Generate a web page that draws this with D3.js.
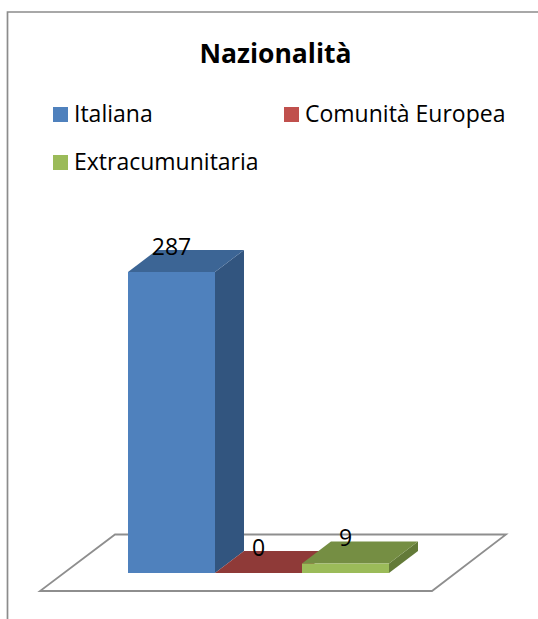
<!DOCTYPE html>
<html><head><meta charset="utf-8">
<script src="https://cdn.jsdelivr.net/npm/d3@7"></script>
<style>html,body{margin:0;padding:0;background:#fff}svg{display:block}text{font-family:"Open Sans",Lato,sans-serif;fill:#000}</style>
</head><body><svg id="c" width="538" height="619"></svg>
<script>
const chartTitle = "Nazionalità";
const categories = ["Italiana","Comunità Europea","Extracumunitaria"];
const values = [287,0,9];
const frontColors = ["#4f81bd","#c0504d","#9bbb59"];
const topColors = ["#3c6595","#8f3a38","#758e43"];
const sideColors = ["#32557f","#7a3230","#637a38"];

const svg = d3.select("#c");
const depthX = 29, depthY = 22;
const x = d3.scaleBand().domain(categories).range([128,389]).padding(0);
const y = d3.scaleLinear().domain([0,287]).range([573,272]);

svg.append("path").attr("d","M7.5,619V12H538").attr("fill","none").attr("stroke","#8c8c8c").attr("stroke-width",1.7);
svg.append("polygon").attr("points","40,591 432,591 506,534.5 115,534.5")
  .attr("fill","#fff").attr("stroke","#8e8e8e").attr("stroke-width",1.8);

svg.append("text").attr("x",275.5).attr("y",62.5).attr("text-anchor","middle")
  .attr("font-size",26.5).attr("font-weight",700).text(chartTitle);

const legendPos = [[53,107],[284,107],[53,155]];
const lg = svg.selectAll("g.l").data(categories).join("g").attr("class","l")
  .attr("transform",(d,i)=>`translate(${legendPos[i]})`);
lg.append("rect").attr("width",15).attr("height",15).attr("fill",(d,i)=>frontColors[i]);
lg.append("text").attr("x",21).attr("y",15).attr("font-size",23).text(d=>d);

const bars = svg.selectAll("g.b").data(categories).join("g").attr("class","b");
bars.each(function(c,i){
  const g=d3.select(this), x0=x(c), x1=x0+x.bandwidth(), yt=y(values[i]), yb=y(0);
  g.append("polygon").attr("fill",sideColors[i])
   .attr("points",[[x1,yt],[x1+depthX,yt-depthY],[x1+depthX,yb-depthY],[x1,yb]].join(" "));
  g.append("polygon").attr("fill",topColors[i])
   .attr("points",[[x0,yt],[x0+depthX,yt-depthY],[x1+depthX,yt-depthY],[x1,yt]].join(" "));
  g.append("rect").attr("x",x0).attr("y",yt).attr("width",x.bandwidth()).attr("height",yb-yt).attr("fill",frontColors[i]);
});
svg.selectAll("text.v").data(values).join("text").attr("class","v")
  .attr("x",(d,i)=>x(categories[i])+x.bandwidth()/2)
  .attr("y",d=>y(d)-17.5).attr("text-anchor","middle").attr("font-size",23).text(d=>d);
</script></body></html>
